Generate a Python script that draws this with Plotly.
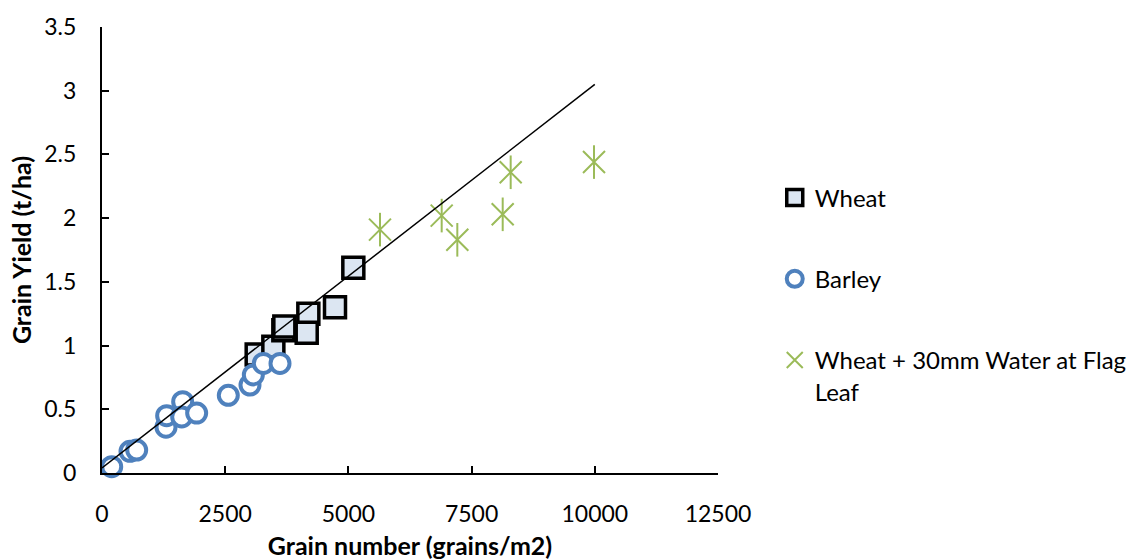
import plotly.graph_objects as go

# Grain number (grains/m2) and grain yield (t/ha) per treatment
wheat_x = [3139, 3477, 3680, 3700, 4187, 4154, 4728, 5100]
wheat_y = [0.93, 0.99, 1.12, 1.15, 1.25, 1.10, 1.30, 1.61]

barley_x = [197, 568, 704, 1299, 1312, 1637, 1617, 1921, 2563, 3003, 3071, 3274, 3612]
barley_y = [0.05, 0.17, 0.18, 0.36, 0.45, 0.56, 0.44, 0.47, 0.61, 0.69, 0.77, 0.86, 0.86]

water_x = [5641, 6893, 7210, 8131, 8293, 9984]
water_y = [1.91, 2.02, 1.83, 2.03, 2.36, 2.44]

# Linear trend across the pooled data
trend_x = [0, 10000]
trend_y = [0.04, 3.05]

x_ticks = [0, 2500, 5000, 7500, 10000, 12500]
y_ticks = [0, 0.5, 1, 1.5, 2, 2.5, 3, 3.5]

FONT = "Lato"
BLUE = "#4F81BD"
GREEN = "#9BBB59"

fig = go.Figure()

fig.add_trace(go.Scatter(
    x=wheat_x, y=wheat_y, mode="markers", name="Wheat",
    legendgroup="a", cliponaxis=False,
    marker=dict(symbol="square", size=21, color="#DCE6F2",
                line=dict(color="black", width=3.5)),
))
fig.add_trace(go.Scatter(
    x=barley_x, y=barley_y, mode="markers", name="Barley",
    legendgroup="b", cliponaxis=False,
    marker=dict(symbol="circle", size=19, color="white",
                line=dict(color=BLUE, width=4)),
))
fig.add_trace(go.Scatter(
    x=water_x, y=water_y, mode="markers",
    name="Wheat + 30mm Water at Flag<br>Leaf",
    legendgroup="c", cliponaxis=False,
    marker=dict(symbol="x-thin-open", size=22, color=GREEN,
                line=dict(color=GREEN, width=2)),
))
fig.add_trace(go.Scatter(
    x=water_x, y=water_y, mode="markers", showlegend=False,
    legendgroup="c", cliponaxis=False,
    marker=dict(symbol="line-ns-open", size=24, color=GREEN,
                line=dict(color=GREEN, width=2)),
))
fig.add_trace(go.Scatter(
    x=trend_x, y=trend_y, mode="lines", showlegend=False,
    line=dict(color="black", width=1.5),
))

fig.update_layout(
    width=1136, height=560,
    margin=dict(l=102, r=418, t=25, b=87),
    paper_bgcolor="white", plot_bgcolor="white",
    font=dict(family=FONT, size=23, color="black"),
    legend=dict(
        xref="container", x=0.682, y=0.667, xanchor="left", yanchor="top",
        traceorder="grouped", tracegroupgap=47, valign="top",
        font=dict(family=FONT, size=24), itemwidth=30,
    ),
    xaxis=dict(
        range=[0, 12500], tickvals=x_ticks, ticktext=[str(v) for v in x_ticks],
        showgrid=False, zeroline=False, showline=True, automargin=False,
        linecolor="black", linewidth=2,
        ticks="inside", ticklen=7, tickwidth=1.5, tickcolor="black",
        ticklabelstandoff=19,
        title=dict(text="<b>Grain number (grains/m2)</b>",
                   font=dict(family=FONT, size=25)),
    ),
    yaxis=dict(
        range=[0, 3.5], tickvals=y_ticks, ticktext=[f"{v:g}" for v in y_ticks],
        showgrid=False, zeroline=False, showline=True,
        linecolor="black", linewidth=2,
        ticks="inside", ticklen=7, tickwidth=1.5, tickcolor="black",
        ticklabelstandoff=19,
        title=dict(text="<b>Grain Yield (t/ha)</b>", standoff=6,
                   font=dict(family=FONT, size=25)),
    ),
)

fig.write_html("out.html")
